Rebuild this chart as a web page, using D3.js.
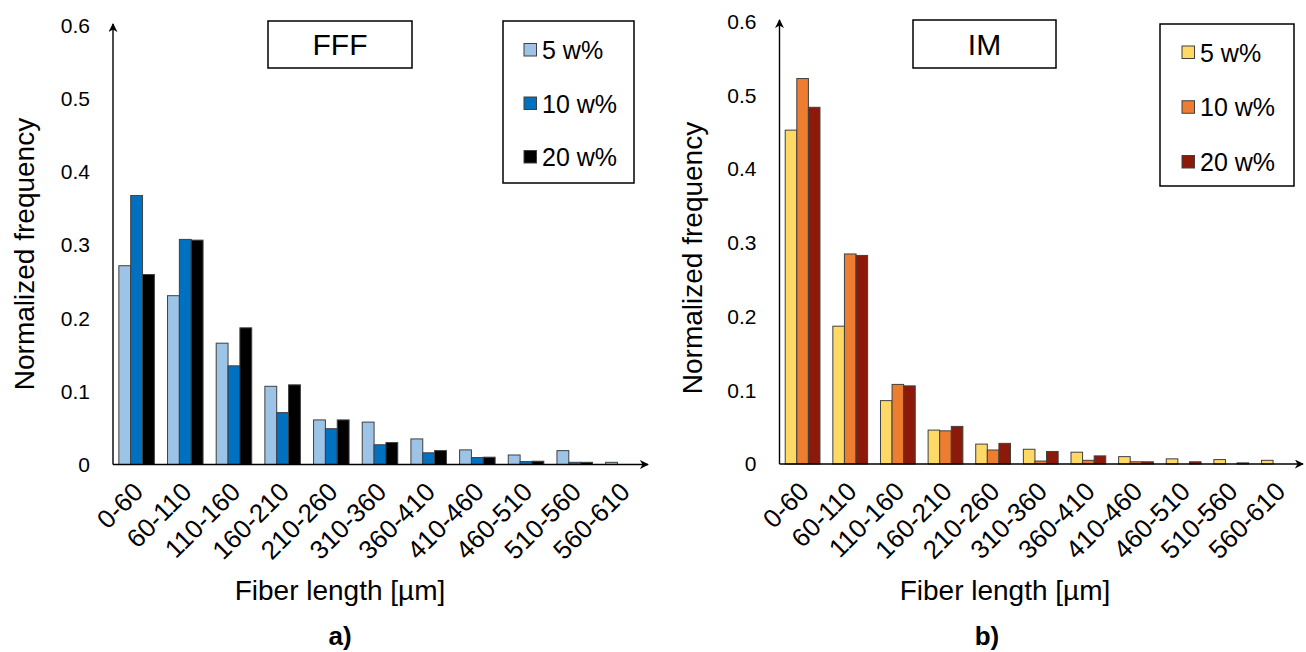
<!DOCTYPE html>
<html>
<head>
<meta charset="utf-8">
<script src="https://cdn.jsdelivr.net/npm/d3@7"></script>
<style>
  html, body { margin: 0; padding: 0; background: #fff; }
  svg { display: block; font-family: "Liberation Sans", Arial, sans-serif; }
</style>
</head>
<body>
<svg id="chart" width="1306" height="652"></svg>
<script>
// ---- data ----
const categories = ["0-60","60-110","110-160","160-210","210-260","310-360","360-410","410-460","460-510","510-560","560-610"];
const seriesNames = ["5 w%","10 w%","20 w%"];
const yTickValues = [0, 0.1, 0.2, 0.3, 0.4, 0.5, 0.6];
const yTickLabels = ["0", "0.1", "0.2", "0.3", "0.4", "0.5", "0.6"];

const fff5  = [0.272, 0.231, 0.166, 0.107, 0.061, 0.058, 0.035, 0.020, 0.013, 0.019, 0.003];
const fff10 = [0.368, 0.308, 0.135, 0.071, 0.049, 0.027, 0.016, 0.0095, 0.004, 0.003, 0];
const fff20 = [0.260, 0.307, 0.187, 0.109, 0.061, 0.030, 0.019, 0.010, 0.0045, 0.003, 0];

const im5  = [0.453, 0.187, 0.086, 0.046, 0.027, 0.020, 0.016, 0.010, 0.007, 0.006, 0.005];
const im10 = [0.523, 0.285, 0.108, 0.045, 0.019, 0.004, 0.005, 0.003, 0, 0, 0];
const im20 = [0.484, 0.283, 0.106, 0.051, 0.028, 0.017, 0.011, 0.003, 0.003, 0.0015, 0];

const fffColors = ["#9DC3E6", "#0070C0", "#000000"];
const imColors  = ["#FFD966", "#ED7D31", "#8B1A0A"];

const svg = d3.select("#chart");
const defs = svg.append("defs");
defs.append("marker")
  .attr("id", "arrow")
  .attr("viewBox", "0 0 10 10")
  .attr("refX", 9).attr("refY", 5)
  .attr("markerWidth", 9).attr("markerHeight", 9)
  .attr("markerUnits", "userSpaceOnUse")
  .attr("orient", "auto")
  .append("path").attr("d", "M0,0 L10,5 L0,10 L3,5 Z").attr("fill", "#000");

function drawChart(cfg) {
  const g = svg.append("g");
  const x = d3.scaleBand().domain(categories).range([cfg.x0, cfg.x1])
    .paddingInner(0.27).paddingOuter(0.12);
  const xs = d3.scaleBand().domain(seriesNames).range([0, x.bandwidth()]).padding(0);
  const y = d3.scaleLinear().domain([0, 0.6]).range([cfg.yBase, cfg.yTop]);

  const series = seriesNames.map((name, i) => ({ name, color: cfg.colors[i], values: cfg.data[i] }));

  // bars
  series.forEach(s => {
    g.append("g").selectAll("rect").data(s.values).join("rect")
      .attr("x", (d, i) => x(categories[i]) + xs(s.name))
      .attr("y", d => y(d))
      .attr("width", xs.bandwidth())
      .attr("height", d => y(0) - y(d))
      .attr("fill", s.color)
      .attr("stroke", d => d > 0 ? "#404040" : "none")
      .attr("stroke-width", 1);
  });

  // y axis (no tick marks)
  const yAxis = d3.axisLeft(y).tickValues(yTickValues)
    .tickFormat((d, i) => yTickLabels[i]).tickSize(0).tickPadding(23);
  const ya = g.append("g").attr("transform", `translate(${cfg.x0},0)`).call(yAxis);
  ya.select(".domain").remove();
  ya.selectAll("text").attr("font-size", 21).attr("fill", "#000")
    .attr("font-family", "Liberation Sans, Arial, sans-serif");

  // x axis
  const xAxis = d3.axisBottom(x).tickSize(0).tickPadding(0);
  const xa = g.append("g").attr("transform", `translate(0,${cfg.yBase})`).call(xAxis);
  xa.select(".domain").remove();
  xa.selectAll("text")
    .attr("font-size", 26).attr("fill", "#000")
    .attr("font-family", "Liberation Sans, Arial, sans-serif")
    .attr("text-anchor", "end")
    .attr("dy", null).attr("y", null)
    .attr("transform", "translate(8,29) rotate(-45)");

  // axis lines with arrows
  g.append("line").attr("x1", cfg.x0).attr("x2", cfg.x0)
    .attr("y1", cfg.yBase).attr("y2", cfg.yArrow)
    .attr("stroke", "#000").attr("stroke-width", 1.4).attr("marker-end", "url(#arrow)");
  g.append("line").attr("x1", cfg.x0).attr("x2", cfg.xArrow)
    .attr("y1", cfg.yBase).attr("y2", cfg.yBase)
    .attr("stroke", "#000").attr("stroke-width", 1.4).attr("marker-end", "url(#arrow)");

  // axis titles
  g.append("text").attr("transform", `translate(${cfg.yTitleX},${cfg.yTitleY}) rotate(-90)`)
    .attr("text-anchor", "middle").attr("font-size", 28).attr("fill", "#000")
    .text("Normalized frequency");
  g.append("text").attr("x", cfg.xTitleX).attr("y", 600)
    .attr("text-anchor", "middle").attr("font-size", 28).attr("fill", "#000")
    .text("Fiber length [µm]");

  // panel label
  g.append("text").attr("x", cfg.panelX).attr("y", 645)
    .attr("text-anchor", "middle").attr("font-size", 26).attr("font-weight", "bold")
    .attr("fill", "#000").text(cfg.panel);

  // title box
  g.append("rect").attr("x", cfg.tb[0]).attr("y", cfg.tb[1])
    .attr("width", cfg.tb[2]).attr("height", cfg.tb[3])
    .attr("fill", "#fff").attr("stroke", "#000").attr("stroke-width", 1.5);
  g.append("text").attr("x", cfg.tb[0] + cfg.tb[2] / 2).attr("y", cfg.tb[1] + cfg.tb[3] / 2 + 10.5)
    .attr("text-anchor", "middle").attr("font-size", 30).attr("fill", "#000").text(cfg.title);

  // legend box
  const lb = cfg.lb;
  g.append("rect").attr("x", lb[0]).attr("y", lb[1]).attr("width", lb[2]).attr("height", lb[3])
    .attr("fill", "#fff").attr("stroke", "#000").attr("stroke-width", 1.5);
  const ly = d3.scalePoint().domain(seriesNames).range([cfg.legY[0], cfg.legY[1]]);
  const li = g.append("g").selectAll("g").data(series).join("g")
    .attr("transform", d => `translate(${cfg.legX},${ly(d.name)})`);
  li.append("rect").attr("x", 0).attr("y", -6.5).attr("width", 12.5).attr("height", 12.5)
    .attr("fill", d => d.color).attr("stroke", "#404040").attr("stroke-width", 1);
  li.append("text").attr("x", 18).attr("y", 9).attr("font-size", 25).attr("fill", "#000")
    .text(d => d.name);
}

drawChart({
  x0: 113, x1: 647, xArrow: 648, yBase: 464.5, yTop: 26, yArrow: 24,
  data: [fff5, fff10, fff20], colors: fffColors,
  yTitleX: 34, yTitleY: 254, xTitleX: 340, panelX: 340, panel: "a)",
  tb: [268, 21, 144, 47], title: "FFF",
  lb: [503, 21, 131, 162], legX: 524, legY: [50, 157]
});

drawChart({
  x0: 779.5, x1: 1302, xArrow: 1303, yBase: 464, yTop: 21.8, yArrow: 20,
  data: [im5, im10, im20], colors: imColors,
  yTitleX: 702, yTitleY: 258, xTitleX: 1005, panelX: 987, panel: "b)",
  tb: [913, 20, 143, 48], title: "IM",
  lb: [1160, 24, 134, 162], legX: 1182, legY: [52.5, 162]
});
</script>
</body>
</html>
